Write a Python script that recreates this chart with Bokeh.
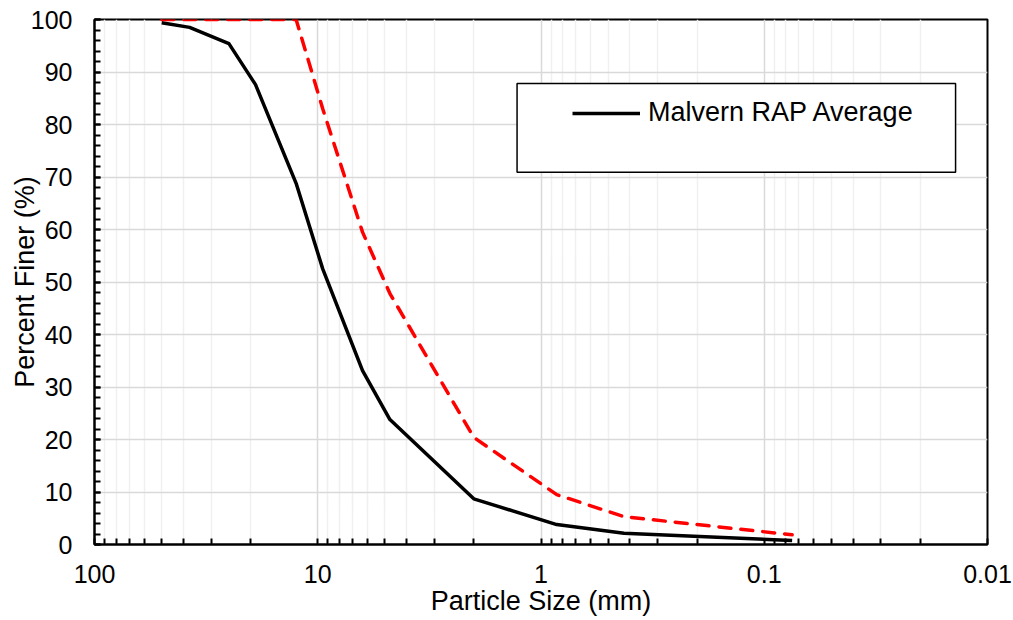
from bokeh.plotting import figure
from bokeh.models import (Range1d, FixedTicker, CustomJSTickFormatter, Legend,
                          LegendItem, BoxAnnotation)
from bokeh.embed import file_html
from bokeh.resources import INLINE

# ---- data ----
sieve_mm = [50, 37.5, 25, 19, 12.5, 9.5, 6.3, 4.75, 2.0, 0.85, 0.425, 0.075]
malvern_avg = [99.4, 98.5, 95.4, 87.6, 68.8, 52.5, 33.1, 23.8, 8.7, 3.8, 2.15, 0.76]
upper_limit = [100, 100, 100, 100, 100, 83.0, 59.5, 47.8, 20.4, 9.5, 5.3, 1.85]

x_major = [100, 10, 1, 0.1, 0.01]
x_minor = [m * d for d in [10, 1, 0.1, 0.01] for m in range(2, 10)]
y_major = list(range(0, 101, 10))
y_minor = list(range(0, 101, 2))

FONT = "Liberation Sans"

p = figure(width=1013, height=620, x_axis_type="log",
           x_range=Range1d(100, 0.01), y_range=Range1d(0, 100),
           output_backend="svg", toolbar_location=None,
           min_border_left=94, min_border_right=26,
           min_border_top=19, min_border_bottom=76)

p.outline_line_color = "black"
p.outline_line_width = 2
p.background_fill_color = "white"
p.border_fill_color = "white"

# axes
p.xaxis.ticker = FixedTicker(ticks=x_major, minor_ticks=x_minor)
p.xaxis.formatter = CustomJSTickFormatter(code="return tick.toString();")
p.yaxis.ticker = FixedTicker(ticks=y_major, minor_ticks=y_minor)

for ax in (p.xaxis[0], p.yaxis[0]):
    ax.axis_line_color = "black"
    ax.axis_line_width = 2
    ax.major_tick_line_color = "black"
    ax.minor_tick_line_color = "black"
    ax.major_tick_line_width = 2
    ax.minor_tick_line_width = 2
    ax.major_tick_in = 6
    ax.major_tick_out = 0
    ax.minor_tick_in = 6
    ax.minor_tick_out = 0
    ax.major_label_text_font = FONT
    ax.major_label_text_font_size = "25px"
    ax.major_label_text_color = "black"
    ax.axis_label_text_font = FONT
    ax.axis_label_text_font_size = "27px"
    ax.axis_label_text_font_style = "normal"
    ax.axis_label_text_color = "black"

p.xaxis.axis_label = "Particle Size (mm)"
p.yaxis.axis_label = "Percent Finer (%)"
p.xaxis.major_label_standoff = 20
p.xaxis.axis_label_standoff = 0
p.yaxis.major_label_standoff = 22
p.yaxis.axis_label_standoff = -12

# grid
p.xgrid.grid_line_color = "#d9d9d9"
p.xgrid.grid_line_width = 1.5
p.xgrid.minor_grid_line_color = "#f0f0f0"
p.xgrid.minor_grid_line_width = 1.5
p.ygrid.grid_line_color = "#d9d9d9"
p.ygrid.grid_line_width = 1.5

# series
r_avg = p.line(sieve_mm, malvern_avg, line_color="black", line_width=3.5,
               line_join="round")
r_lim = p.line(sieve_mm, upper_limit, line_color="#ff0000", line_width=3.5,
               line_dash="12 10", line_cap="round", line_join="round")

# legend box (white, black border) and legend
box = BoxAnnotation(left=1.28, right=0.0139, top=87.8, bottom=70.9,
                    fill_color="white", fill_alpha=1.0,
                    line_color="black", line_width=1.5, line_alpha=1.0)
p.add_layout(box)

legend = Legend(items=[LegendItem(label="Malvern RAP Average", renderers=[r_avg])],
                location=(478, 416), padding=0, margin=0,
                glyph_width=68, glyph_height=26, label_height=26,
                label_standoff=8, label_text_font=FONT,
                label_text_font_size="27px", label_text_color="black",
                border_line_alpha=0, background_fill_alpha=0)
p.add_layout(legend)

open("out.html", "w").write(file_html(p, INLINE))
